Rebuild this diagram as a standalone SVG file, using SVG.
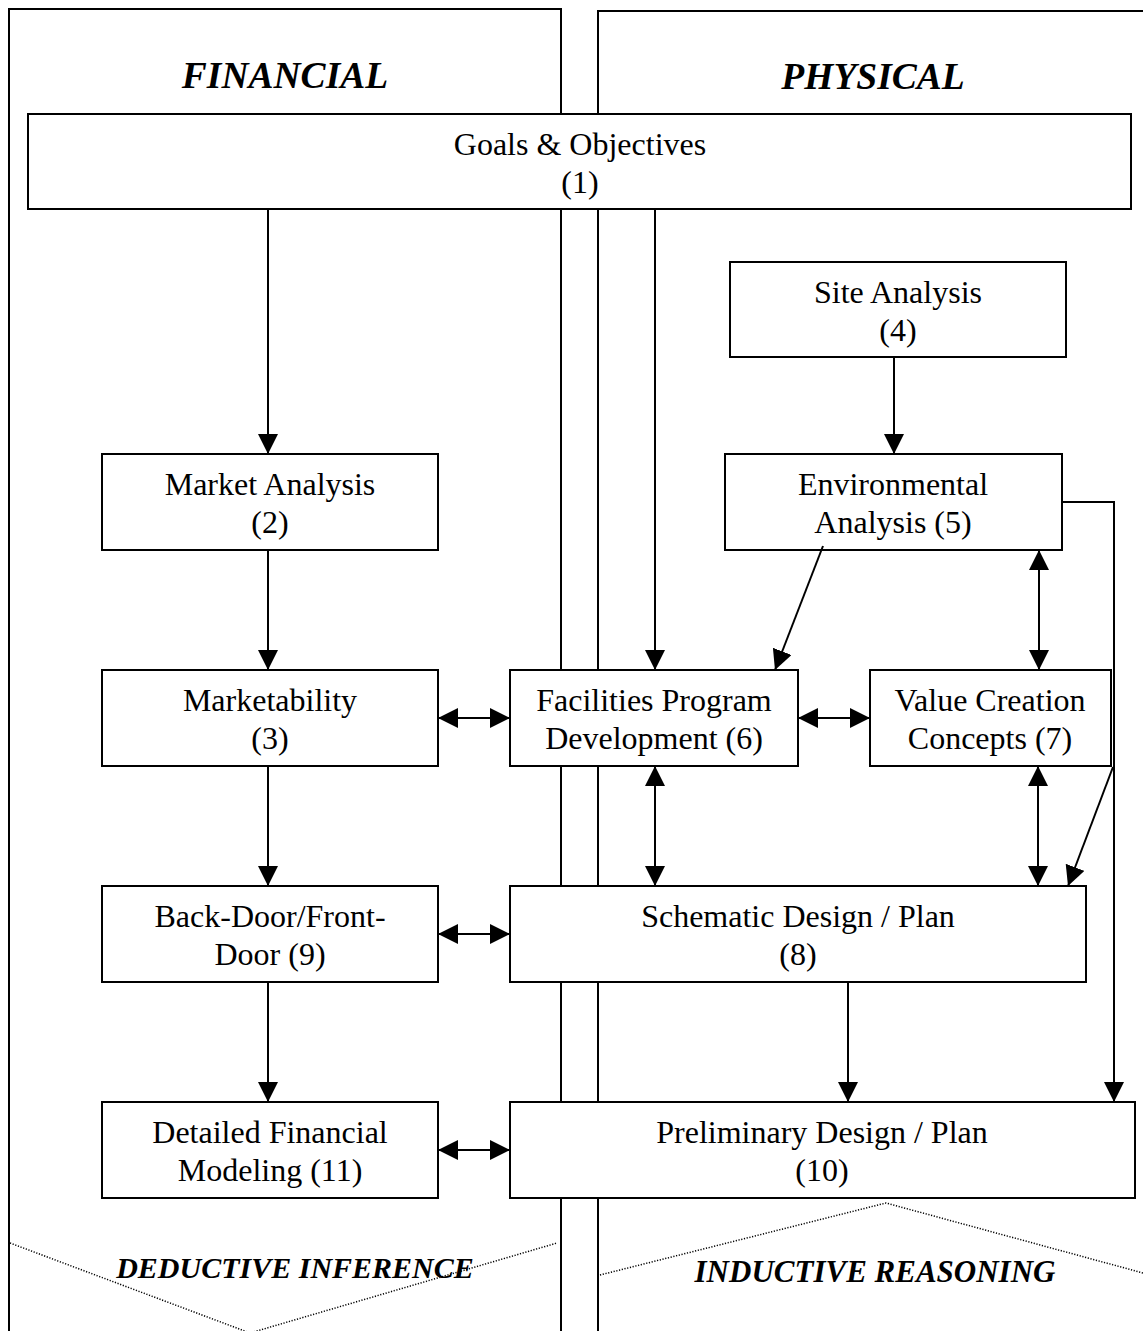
<svg xmlns="http://www.w3.org/2000/svg" width="1143" height="1331" viewBox="0 0 1143 1331">
<style>
.panel{fill:none;stroke:#000;stroke-width:2}
.box{fill:#fff;stroke:#000;stroke-width:2}
.t{font-family:"Liberation Serif","Times New Roman",serif;font-size:32px;text-anchor:middle;fill:#000}
.h{font-family:"Liberation Serif","Times New Roman",serif;font-size:37.5px;font-weight:bold;font-style:italic;text-anchor:middle;fill:#000}
.f{font-family:"Liberation Serif","Times New Roman",serif;font-size:30px;font-weight:bold;font-style:italic;text-anchor:middle;fill:#000}
.c{fill:none;stroke:#000;stroke-width:2}
.a{marker-end:url(#ah)}
.d{marker-end:url(#ah);marker-start:url(#ah)}
.dot{fill:none;stroke:#000;stroke-width:1.5;stroke-dasharray:1.2 1.6}
</style>
<defs>
<marker id="ah" viewBox="0 0 20 20" refX="20" refY="10" markerWidth="20" markerHeight="20" markerUnits="userSpaceOnUse" orient="auto-start-reverse">
<path d="M0,0 L20,10 L0,20 z" fill="#000"/>
</marker>
</defs>
<rect width="1143" height="1331" fill="#fff"/>
<g id="panels">
<path class="panel" d="M9,1340 V9 H561 V1340"/>
<path class="panel" d="M598,1340 V11 H1150"/>
<text class="h" x="285" y="88">FINANCIAL</text>
<text class="h" x="873" y="89">PHYSICAL</text>
<path class="dot" d="M10,1243 L250,1333 L557,1243"/>
<path class="dot" d="M600,1275 L886,1203 L1143,1273"/>
<text class="f" x="295" y="1278">DEDUCTIVE INFERENCE</text>
<text class="f" x="875" y="1282" style="font-size:31px">INDUCTIVE REASONING</text>
</g>
<g id="n1"><rect class="box" x="28" y="114" width="1103" height="95"/><text class="t" x="580" y="155">Goals &amp; Objectives</text><text class="t" x="580" y="193">(1)</text></g>
<g id="n4"><rect class="box" x="730" y="262" width="336" height="95"/><text class="t" x="898" y="303">Site Analysis</text><text class="t" x="898" y="341">(4)</text></g>
<g id="n2"><rect class="box" x="102" y="454" width="336" height="96"/><text class="t" x="270" y="495">Market Analysis</text><text class="t" x="270" y="533">(2)</text></g>
<g id="n5"><rect class="box" x="725" y="454" width="337" height="96"/><text class="t" x="893" y="495">Environmental</text><text class="t" x="893" y="533">Analysis (5)</text></g>
<g id="n3"><rect class="box" x="102" y="670" width="336" height="96"/><text class="t" x="270" y="711">Marketability</text><text class="t" x="270" y="749">(3)</text></g>
<g id="n6"><rect class="box" x="510" y="670" width="288" height="96"/><text class="t" x="654" y="711">Facilities Program</text><text class="t" x="654" y="749">Development (6)</text></g>
<g id="n7"><rect class="box" x="870" y="670" width="241" height="96"/><text class="t" x="990" y="711">Value Creation</text><text class="t" x="990" y="749">Concepts (7)</text></g>
<g id="n9"><rect class="box" x="102" y="886" width="336" height="96"/><text class="t" x="270" y="927">Back-Door/Front-</text><text class="t" x="270" y="965">Door (9)</text></g>
<g id="n8"><rect class="box" x="510" y="886" width="576" height="96"/><text class="t" x="798" y="927">Schematic Design / Plan</text><text class="t" x="798" y="965">(8)</text></g>
<g id="n11"><rect class="box" x="102" y="1102" width="336" height="96"/><text class="t" x="270" y="1143">Detailed Financial</text><text class="t" x="270" y="1181">Modeling (11)</text></g>
<g id="n10"><rect class="box" x="510" y="1102" width="625" height="96"/><text class="t" x="822" y="1143">Preliminary Design / Plan</text><text class="t" x="822" y="1181">(10)</text></g>
<g id="connectors">
<line class="c a" x1="268" y1="209" x2="268" y2="454"/>
<line class="c a" x1="655" y1="209" x2="655" y2="670"/>
<line class="c a" x1="894" y1="357" x2="894" y2="454"/>
<line class="c a" x1="268" y1="550" x2="268" y2="670"/>
<line class="c a" x1="268" y1="766" x2="268" y2="886"/>
<line class="c a" x1="268" y1="982" x2="268" y2="1102"/>
<line class="c d" x1="438" y1="718" x2="510" y2="718"/>
<line class="c d" x1="798" y1="718" x2="870" y2="718"/>
<line class="c d" x1="438" y1="934" x2="510" y2="934"/>
<line class="c d" x1="438" y1="1150" x2="510" y2="1150"/>
<line class="c d" x1="1039" y1="550" x2="1039" y2="670"/>
<line class="c d" x1="655" y1="766" x2="655" y2="886"/>
<line class="c d" x1="1038" y1="766" x2="1038" y2="886"/>
<line class="c a" x1="823" y1="546" x2="775" y2="670"/>
<polyline class="c a" points="1062,502 1114,502 1114,1102"/>
<line class="c a" x1="1113" y1="767" x2="1068" y2="886"/>
<line class="c a" x1="848" y1="982" x2="848" y2="1102"/>
</g>
</svg>
